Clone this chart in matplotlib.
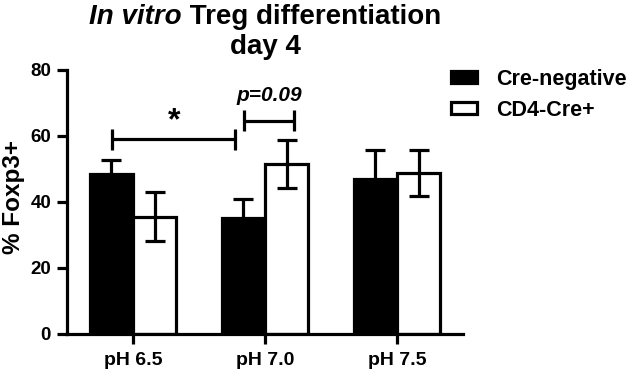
import matplotlib
matplotlib.use("Agg")
import matplotlib.pyplot as plt
import numpy as np
from matplotlib.patches import Patch

plt.rcParams['font.family'] = ['Liberation Sans', 'DejaVu Sans']
plt.rcParams['font.weight'] = 'bold'

categories = ["pH 6.5", "pH 7.0", "pH 7.5"]
series_names = ["Cre-negative", "CD4-Cre+"]
cre_neg = [48.6, 35.1, 47.1]
cre_neg_err = [4.0, 5.8, 8.6]
cd4_cre = [35.6, 51.4, 48.8]
cd4_cre_err = [7.4, 7.3, 7.1]
yticks = [0, 20, 40, 60, 80]

LW = 2.3
fig = plt.figure(figsize=(6.29, 3.73), dpi=100)
ax = fig.add_axes([67/629, 1 - 334/373, (463-67)/629, (334-70)/373])

x = np.arange(len(categories))
w = 0.326
ax.bar(x - w/2, cre_neg, w, color='black', edgecolor='black', linewidth=LW, zorder=2)
ax.bar(x + w/2, cd4_cre, w, color='white', edgecolor='black', linewidth=LW, zorder=2)
ax.errorbar(x - w/2, cre_neg, yerr=cre_neg_err, fmt='none', ecolor='black',
            elinewidth=LW, capsize=7.5, capthick=LW, zorder=3)
ax.errorbar(x + w/2, cd4_cre, yerr=cd4_cre_err, fmt='none', ecolor='black',
            elinewidth=LW, capsize=7.5, capthick=LW, zorder=3)

ax.set_xlim(-0.5, 2.5)
ax.set_ylim(0, 80)
ax.set_yticks(yticks)
ax.set_xticks(x)
ax.set_xticklabels(categories)
for s in ['top', 'right']:
    ax.spines[s].set_visible(False)
for s in ['left', 'bottom']:
    ax.spines[s].set_linewidth(LW)
ax.tick_params(axis='both', width=LW, length=7.5, colors='black')
ax.tick_params(axis='x', pad=5.5, labelsize=14)
ax.tick_params(axis='y', pad=4, labelsize=13.5)
for lab in ax.get_xticklabels() + ax.get_yticklabels():
    lab.set_fontweight('bold')

ax.set_ylabel("% Foxp3+", fontsize=17.5, fontweight='bold')
ax.yaxis.set_label_coords((13 - 67) / 396, (334 - 197) / 264)
ax.yaxis.label.set_va('center')

# significance brackets
def bracket(x0, x1, y, h):
    ax.plot([x0, x1], [y, y], color='black', lw=LW, clip_on=False, solid_capstyle='butt')
    for xx in (x0, x1):
        ax.plot([xx, xx], [y - h, y + h], color='black', lw=LW, clip_on=False, solid_capstyle='butt')

bracket(-0.16, 0.775, 59.0, 3.2)
ax.text(0.315, 59.8, "*", ha='center', va='bottom', fontsize=23, fontweight='bold')
bracket(0.84, 1.22, 64.6, 3.2)
ax.text(1.03, 72.3, "p=0.09", ha='center', va='center', fontsize=15,
        fontweight='bold', fontstyle='italic')

# legend
handles = [Patch(facecolor='black', edgecolor='black', linewidth=LW),
           Patch(facecolor='white', edgecolor='black', linewidth=LW)]
leg = fig.legend(handles, series_names, loc='upper left',
                 bbox_to_anchor=(451/629, 1 - 69/373), frameon=False,
                 prop={'weight': 'bold', 'size': 15.5},
                 handlelength=1.2, handleheight=0.5, handletextpad=0.9,
                 labelspacing=0.45, borderaxespad=0, borderpad=0)

# title with italic part
fig.canvas.draw()
r = fig.canvas.get_renderer()
fs = 20
t1 = fig.text(0, 0, "In vitro", fontsize=fs, fontweight='bold', fontstyle='italic')
t2 = fig.text(0, 0, " Treg differentiation", fontsize=fs, fontweight='bold')
w1 = t1.get_window_extent(r).width
w2 = t2.get_window_extent(r).width
cx = (67 + 463) / 2
start = cx - (w1 + w2) / 2
ybase = 373 - 24
t1.set_position((start / 629, ybase / 373))
t2.set_position(((start + w1) / 629, ybase / 373))
t1.set_va('baseline'); t2.set_va('baseline')
fig.text(cx / 629, (373 - 54) / 373, "day 4", fontsize=fs, fontweight='bold',
         ha='center', va='baseline')

fig.savefig("out.png", dpi=100)
